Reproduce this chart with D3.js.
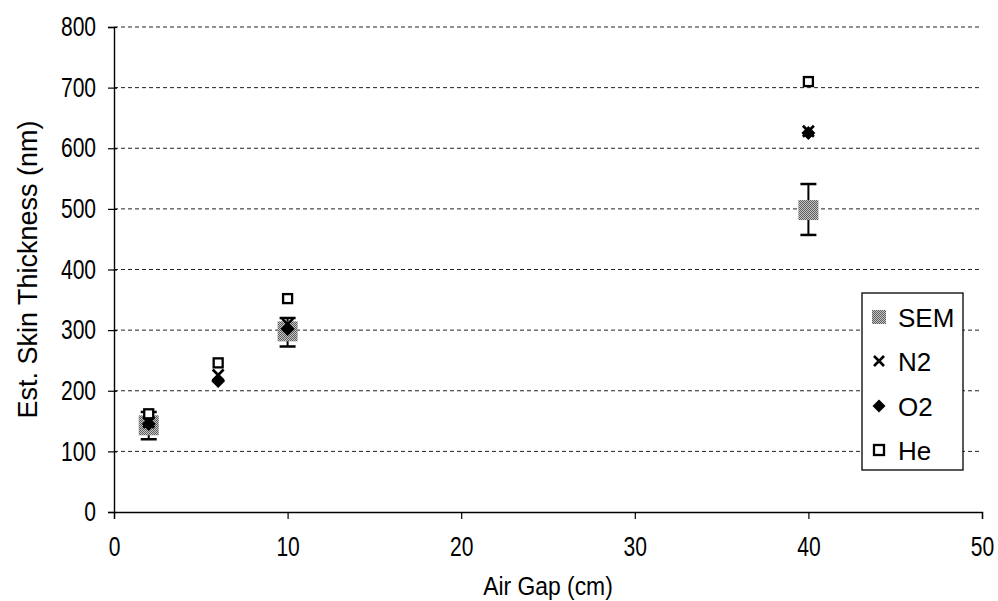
<!DOCTYPE html>
<html>
<head>
<meta charset="utf-8">
<script src="https://cdn.jsdelivr.net/npm/d3@7"></script>
<style>
  body { margin: 0; background: #fff; }
  text { font-family: "Liberation Sans", Arial, sans-serif; fill: #000; }
</style>
</head>
<body>
<svg id="chart" width="998" height="601"></svg>
<script>
// data
const airGap = [2, 6, 10, 40];
const semVal = [143, null, 298, 498];
const semLo = [120, null, 273, 457];
const semHi = [165, null, 320, 541];
const n2Val = [148, 226, 310, 628];
const o2Val = [145, 216, 302, 625];
const heVal = [162, 246, 352, 710];
const xTicks = [0, 10, 20, 30, 40, 50];
const yTicks = [0, 100, 200, 300, 400, 500, 600, 700, 800];
const legendNames = ["SEM", "N2", "O2", "He"];

const svg = d3.select("#chart");

const xScale = d3.scaleLinear().domain([0, 50]).range([114, 982]);
const yScale = d3.scaleLinear().domain([0, 800]).range([512, 27]);

// the tick labels in the scan look condensed
const squeeze = 0.78;

// dithered grey for SEM squares
const defs = svg.append("defs");
const pat = defs.append("pattern")
    .attr("id", "dither")
    .attr("width", 2).attr("height", 2)
    .attr("patternUnits", "userSpaceOnUse");
pat.append("rect").attr("width", 2).attr("height", 2).attr("fill", "#c4c4c4");
pat.append("rect").attr("width", 1).attr("height", 1).attr("fill", "#5e5e5e");
pat.append("rect").attr("x", 1).attr("y", 1).attr("width", 1).attr("height", 1).attr("fill", "#5e5e5e");

// grid lines
svg.append("g")
    .selectAll("line")
    .data(yTicks.filter(d => d > 0))
    .join("line")
    .attr("x1", xScale(0)).attr("x2", xScale(50))
    .attr("y1", d => yScale(d)).attr("y2", d => yScale(d))
    .attr("stroke", "#222")
    .attr("stroke-width", 1)
    .attr("stroke-dasharray", "4,3");

// axes
const xAxis = d3.axisBottom(xScale).tickValues(xTicks).tickSize(7).tickPadding(18);
const yAxis = d3.axisLeft(yScale).tickValues(yTicks).tickSize(6).tickPadding(17);

const gx = svg.append("g")
    .attr("transform", `translate(0,${yScale(0)})`)
    .call(xAxis);
const gy = svg.append("g")
    .attr("transform", `translate(${xScale(0)},0)`)
    .call(yAxis);

[gx, gy].forEach(g => {
    g.select(".domain").attr("stroke", "#000").attr("stroke-width", 1.4);
    g.selectAll(".tick line").attr("stroke", "#000").attr("stroke-width", 1.2);
    g.selectAll(".tick text")
        .attr("font-size", 27)
        .attr("font-family", "Liberation Sans, Arial, sans-serif")
        .attr("fill", "#000")
        .attr("transform", `scale(${squeeze},1)`);
});
gy.selectAll(".tick line").attr("x2", -6).attr("x1", 3);

// axis titles
svg.append("text")
    .attr("transform", `translate(${(xScale(0) + xScale(50)) / 2},595) scale(0.88,1)`)
    .attr("text-anchor", "middle")
    .attr("font-size", 26)
    .text("Air Gap (cm)");

svg.append("text")
    .attr("transform", `translate(37,${(yScale(0) + yScale(800)) / 2}) rotate(-90)`)
    .attr("text-anchor", "middle")
    .attr("font-size", 27)
    .text("Est. Skin Thickness (nm)");

// SEM error bars
const semIdx = airGap.map((d, i) => i).filter(i => semVal[i] != null);
const errG = svg.append("g");
semIdx.forEach(i => {
    const cx = xScale(airGap[i]);
    errG.append("line")
        .attr("x1", cx).attr("x2", cx)
        .attr("y1", yScale(semLo[i])).attr("y2", yScale(semHi[i]))
        .attr("stroke", "#000").attr("stroke-width", 2);
    [semLo[i], semHi[i]].forEach(v => {
        errG.append("line")
            .attr("x1", cx - 8).attr("x2", cx + 8)
            .attr("y1", yScale(v)).attr("y2", yScale(v))
            .attr("stroke", "#000").attr("stroke-width", 2.5);
    });
});

// SEM squares
svg.append("g")
    .selectAll("rect")
    .data(semIdx)
    .join("rect")
    .attr("x", i => xScale(airGap[i]) - 10)
    .attr("y", i => yScale(semVal[i]) - 10)
    .attr("width", 20).attr("height", 20)
    .attr("fill", "url(#dither)");

// marker drawers
function drawCross(g, cx, cy, s) {
    g.append("path")
        .attr("d", `M${cx - s},${cy - s}L${cx + s},${cy + s}M${cx - s},${cy + s}L${cx + s},${cy - s}`)
        .attr("stroke", "#000").attr("stroke-width", 2.6).attr("fill", "none");
}
function drawDiamond(g, cx, cy, s) {
    g.append("path")
        .attr("d", `M${cx},${cy - s}L${cx + s},${cy}L${cx},${cy + s}L${cx - s},${cy}Z`)
        .attr("fill", "#000");
}
function drawSquare(g, cx, cy, s) {
    g.append("rect")
        .attr("x", cx - s).attr("y", cy - s)
        .attr("width", 2 * s).attr("height", 2 * s)
        .attr("fill", "#fff").attr("stroke", "#000").attr("stroke-width", 2.3);
}

const markG = svg.append("g");
airGap.forEach((g, i) => drawCross(markG, xScale(g), yScale(n2Val[i]), 5.5));
airGap.forEach((g, i) => drawDiamond(markG, xScale(g), yScale(o2Val[i]), 7));
airGap.forEach((g, i) => drawSquare(markG, xScale(g), yScale(heVal[i]), 4.5));

// legend
const legend = svg.append("g");
legend.append("rect")
    .attr("x", 862).attr("y", 293)
    .attr("width", 101).attr("height", 177)
    .attr("fill", "#fff").attr("stroke", "#000").attr("stroke-width", 1.3);

const legendY = [317, 361, 406, 450];
legendNames.forEach((name, i) => {
    const cy = legendY[i];
    const cx = 879;
    if (name === "SEM") {
        legend.append("rect")
            .attr("x", cx - 7).attr("y", cy - 7)
            .attr("width", 14).attr("height", 14)
            .attr("fill", "url(#dither)");
    } else if (name === "N2") {
        drawCross(legend, cx, cy, 5);
    } else if (name === "O2") {
        drawDiamond(legend, cx, cy, 6.5);
    } else {
        drawSquare(legend, cx, cy, 5);
    }
    legend.append("text")
        .attr("x", 898)
        .attr("y", cy + 9.5)
        .attr("font-size", 26)
        .text(name);
});
</script>
</body>
</html>
